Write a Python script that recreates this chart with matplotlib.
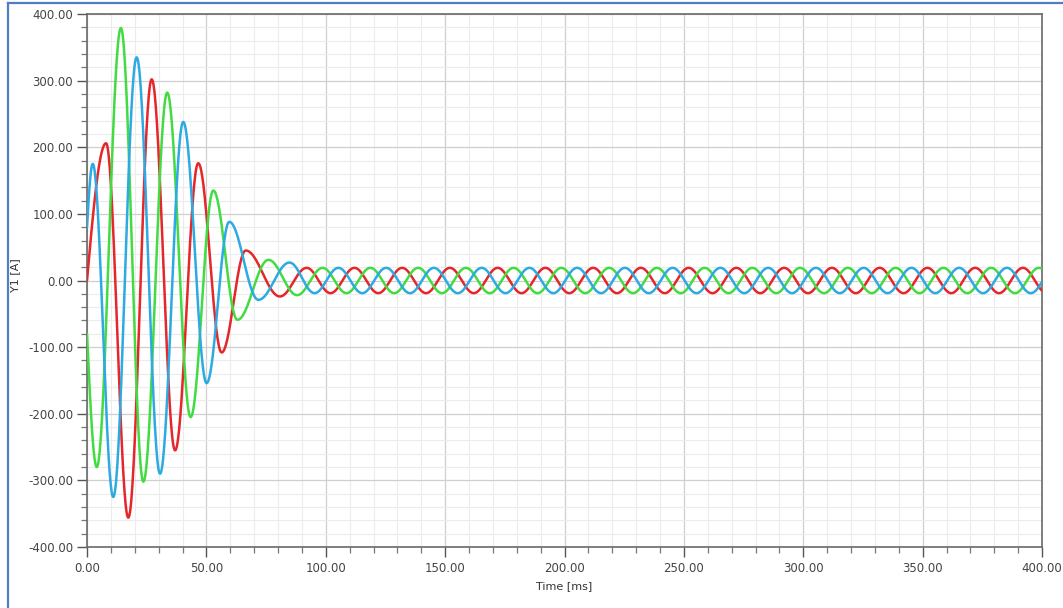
import numpy as np
import matplotlib
matplotlib.use("Agg")
import matplotlib.pyplot as plt
from matplotlib.ticker import MultipleLocator, FormatStrFormatter
from matplotlib.lines import Line2D

# Turning points of each phase current during the start-up transient (time [ms], current [A])
red_t = [0.0, 8.0, 17.3, 27.1, 36.9, 46.6, 56.4, 66.5, 80.8]
red_v = [0, 206, -356, 302, -255, 176, -108, 45, -24]

green_t = [0.0, 4.1, 14.2, 23.6, 33.6, 43.4, 52.9, 63.0, 76.0, 88.0]
green_v = [-80, -280, 379, -302, 282, -205, 135, -59, 31, -22]

blue_t = [0.0, 2.4, 11.0, 20.8, 30.6, 40.3, 50.1, 59.6, 71.8, 84.8]
blue_v = [80, 175, -325, 335, -290, 238, -154, 88, -29, 27]

# Steady-state operation after the transient
period_ms = 20.0
steady_amp = [19.0, 19.0, 19.0]            # red, green, blue
steady_first = [92.0, 98.7, 95.3]          # first steady turning point of each phase
t_end = 400.0

colors = ["#e5262b", "#42dc42", "#2eaae2"]


def turning_points(ts, vs, amp, first):
    ts, vs = list(ts), list(vs)
    sign = -np.sign(vs[-1])
    t = first
    while t < t_end + period_ms:
        ts.append(t)
        vs.append(sign * amp)
        sign = -sign
        t += period_ms / 2
    return ts, vs


def waveform(ts, vs, n=40):
    xs, ys = [], []
    for i in range(len(ts) - 1):
        s = np.linspace(0, 1, n, endpoint=False)
        if i == 0:
            shape = np.sin(np.pi / 2 * s)          # start point is not a turning point
        else:
            shape = (1 - np.cos(np.pi * s)) / 2
        xs.append(ts[i] + (ts[i + 1] - ts[i]) * s)
        ys.append(vs[i] + (vs[i + 1] - vs[i]) * shape)
    x = np.concatenate(xs)
    y = np.concatenate(ys)
    keep = x <= t_end
    return x[keep], y[keep]


W, H = 1063, 608
fig = plt.figure(figsize=(W / 100, H / 100), dpi=100)
ax = fig.add_axes([87 / W, 1 - 547 / H, (1042 - 87) / W, (547 - 14) / H])

phases = [(red_t, red_v), (green_t, green_v), (blue_t, blue_v)]
for k, (ts, vs) in enumerate(phases):
    tt, vv = turning_points(ts, vs, steady_amp[k], steady_first[k])
    x, y = waveform(tt, vv)
    ax.plot(x, y, color=colors[k], lw=1.8, solid_capstyle="round", zorder=3)

ax.set_xlim(0, 400)
ax.set_ylim(-400, 400)
ax.xaxis.set_major_locator(MultipleLocator(50))
ax.xaxis.set_minor_locator(MultipleLocator(10))
ax.yaxis.set_major_locator(MultipleLocator(100))
ax.yaxis.set_minor_locator(MultipleLocator(20))
ax.xaxis.set_major_formatter(FormatStrFormatter("%.2f"))
ax.yaxis.set_major_formatter(FormatStrFormatter("%.2f"))

ax.grid(which="major", color="#cfcfcf", lw=0.9, zorder=0)
ax.grid(which="minor", color="#ececec", lw=0.8, zorder=0)
ax.set_axisbelow(True)

for sp in ax.spines.values():
    sp.set_color("#6a6a6a")
    sp.set_linewidth(1.2)

ax.tick_params(which="major", direction="out", length=7, width=1, color="#555555",
               labelsize=8.5, labelcolor="#444444", pad=3)
ax.tick_params(which="minor", direction="out", length=4.3, width=0.9, color="#777777")
ax.tick_params(axis="x", which="major", pad=4)

ax.set_xlabel("Time [ms]", fontsize=8, color="#333333", labelpad=4)
ax.set_ylabel("Y1 [A]", fontsize=8, color="#333333", labelpad=4)
ax.yaxis.set_label_coords(-0.07, 0.51)

# Frame around the figure
border = "#4f7fc0"
fig.add_artist(Line2D([8 / W, 1.0], [1 - 3 / H, 1 - 3 / H], color=border, lw=1.6,
                      transform=fig.transFigure))
fig.add_artist(Line2D([8 / W, 8 / W], [0.0, 1 - 3 / H], color=border, lw=1.6,
                      transform=fig.transFigure))

fig.savefig("out.png", dpi=100, facecolor="white")
